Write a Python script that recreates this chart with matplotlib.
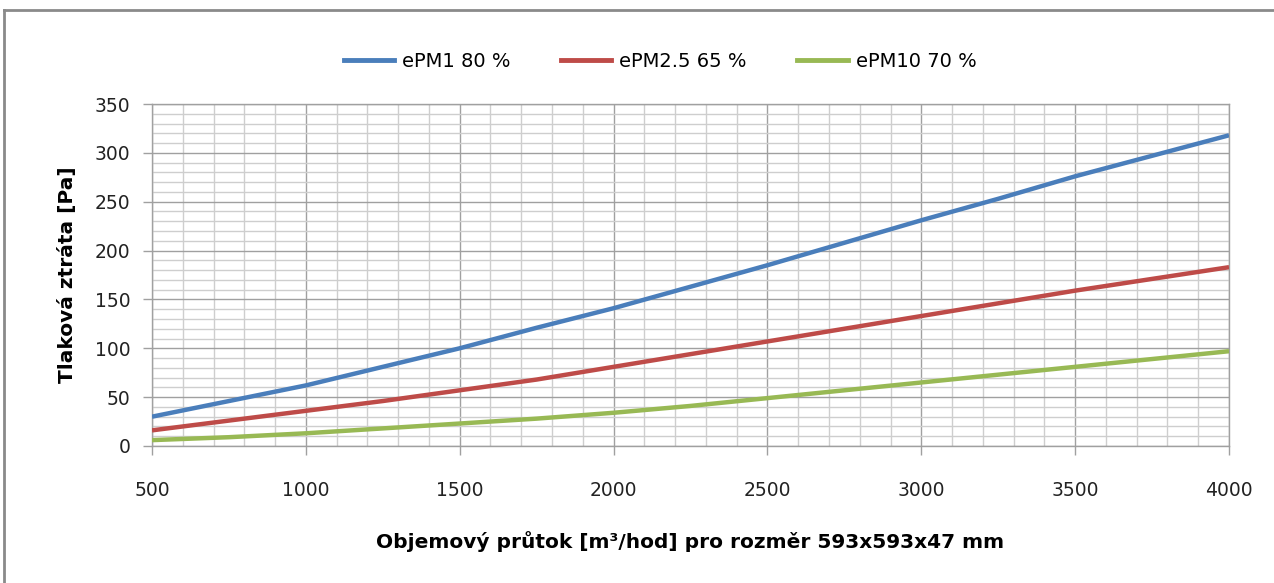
import matplotlib
matplotlib.use("Agg")
import matplotlib.pyplot as plt
from matplotlib.ticker import MultipleLocator
from matplotlib.lines import Line2D

flow = [500, 750, 1000, 1250, 1500, 1750, 2000, 2250, 2500, 2750, 3000, 3250, 3500, 3750, 4000]
epm1 = [30, 46, 62, 81, 100, 121, 141, 163, 185, 208, 231, 253, 276, 297, 318]
epm25 = [16, 26, 36, 46, 57, 68, 81, 94, 107, 120, 133, 146, 159, 171, 183]
epm10 = [6, 9, 13, 18, 23, 28, 34, 41, 49, 57, 65, 73, 81, 89, 97]
series_names = ["ePM1 80 %", "ePM2.5 65 %", "ePM10 70 %"]
colors = ["#4a7ebb", "#be4b48", "#98b954"]
xlabel = "Objemový průtok [m³/hod] pro rozměr 593x593x47 mm"
ylabel = "Tlaková ztráta [Pa]"

label_font = ["DejaVu Sans"]
tick_font = ["DejaVu Sans"]

fig = plt.figure(figsize=(12.74, 5.83), dpi=100)
ax = fig.add_axes([0.1193, 0.235, 0.8454, 0.5866])

for vals, name, c in zip([epm1, epm25, epm10], series_names, colors):
    ax.plot(flow, vals, color=c, lw=3.2, label=name, solid_capstyle="butt", zorder=3)

ax.set_xlim(500, 4000)
ax.set_ylim(0, 350)
ax.xaxis.set_major_locator(MultipleLocator(500))
ax.xaxis.set_minor_locator(MultipleLocator(100))
ax.yaxis.set_major_locator(MultipleLocator(50))
ax.yaxis.set_minor_locator(MultipleLocator(10))
ax.grid(which="major", color="#a0a0a0", lw=1.0, zorder=1)
ax.grid(which="minor", color="#cecece", lw=1.0, zorder=1)
ax.tick_params(which="major", direction="out", length=6.5, width=1, color="#a0a0a0",
               labelsize=13.5)
ax.tick_params(which="minor", length=0)
ax.tick_params(axis="y", pad=9)
ax.tick_params(axis="x", pad=19)
for lab in ax.get_xticklabels() + ax.get_yticklabels():
    lab.set_family(tick_font)
    lab.set_color("#222222")
for s in ax.spines.values():
    s.set_color("#a0a0a0")
    s.set_linewidth(1)

ax.set_xlabel(xlabel, family=label_font, fontsize=14.5, fontweight="bold", labelpad=22)
ax.set_ylabel(ylabel, family=label_font, fontsize=14.5, fontweight="bold", labelpad=13)

handles = [Line2D([0], [0], color=c, lw=3.5) for c in colors]
fig.legend(handles, series_names, loc="center", bbox_to_anchor=(0.518, 0.895), ncol=3,
           frameon=False, prop={"family": label_font, "size": 14}, handlelength=2.6,
           columnspacing=2.6, handletextpad=0.4)

# outer frame (top and left edges visible)
fig.add_artist(Line2D([0.003, 1.0], [0.982, 0.982], transform=fig.transFigure, color="#8a8a8a", lw=2))
fig.add_artist(Line2D([0.003, 0.003], [0.0, 0.982], transform=fig.transFigure, color="#8a8a8a", lw=2))

fig.savefig("out.png", dpi=100)
